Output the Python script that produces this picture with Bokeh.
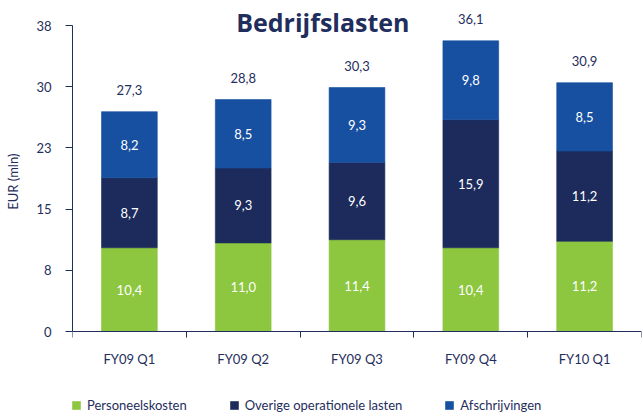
from bokeh.plotting import figure
from bokeh.models import (ColumnDataSource, Range1d, FixedTicker, CustomJSTickFormatter,
                          Legend, LegendItem, Label)
from bokeh.core.properties import value
from bokeh.embed import file_html
from bokeh.resources import INLINE

categories = ["FY09 Q1", "FY09 Q2", "FY09 Q3", "FY09 Q4", "FY10 Q1"]
personeelskosten = [10.4, 11.0, 11.4, 10.4, 11.2]
overige = [8.7, 9.3, 9.6, 15.9, 11.2]
afschrijvingen = [8.2, 8.5, 9.3, 9.8, 8.5]
totals = [27.3, 28.8, 30.3, 36.1, 30.9]
y_ticks = [0, 7.6, 15.2, 22.8, 30.4, 38]
series_names = ["Personeelskosten", "Overige operationele lasten", "Afschrijvingen"]
colors = ["#8DC63F", "#1C2B5B", "#1750A0"]
TEXT = "#1F2E5D"
FONT = "Lato"

def fmt(v):
    return f"{v:.1f}".replace(".", ",")

n = len(categories)
xs = [i + 0.5 for i in range(n)]
data = dict(x=xs, zero=[0] * n, cat=categories,
            p=personeelskosten, o=overige, a=afschrijvingen, total=totals,
            total_lbl=[fmt(v) for v in totals])
data["p_mid"] = [v / 2 for v in personeelskosten]
data["o_mid"] = [p + v / 2 for p, v in zip(personeelskosten, overige)]
data["a_mid"] = [p + o + v / 2 for p, o, v in zip(personeelskosten, overige, afschrijvingen)]
data["p_lbl"] = [fmt(v) for v in personeelskosten]
data["o_lbl"] = [fmt(v) for v in overige]
data["a_lbl"] = [fmt(v) for v in afschrijvingen]
src = ColumnDataSource(data)

Y_MAX = 38
W, H = 643, 419
LEFT, RIGHT = 72, 2
TOP_PX, ZERO_PX = 25, 331           # pixel rows of 38 and 0
ppu = (ZERO_PX - TOP_PX) / Y_MAX    # pixels per unit
y_start = -(H - ZERO_PX) / ppu
y_end = Y_MAX + TOP_PX / ppu

p = figure(width=W, height=H, output_backend="svg", toolbar_location=None,
           x_range=Range1d(0, n), y_range=Range1d(y_start, y_end),
           min_border_left=LEFT, min_border_right=RIGHT, min_border_top=0, min_border_bottom=0)
p.outline_line_color = None
p.xgrid.visible = False
p.ygrid.visible = False
p.background_fill_color = "white"

renderers = p.vbar_stack(["p", "o", "a"], x="x", width=0.49, fill_color=colors,
                         line_color=colors, line_width=0.6, source=src)

for col in ["p", "o", "a"]:
    p.text(x="x", y=col + "_mid", text=col + "_lbl", source=src, text_color="white",
           text_font=value(FONT), text_font_size="13px", text_align="center",
           text_baseline="middle")
p.text(x="x", y="total", text="total_lbl", source=src, text_color=TEXT,
       text_font=value(FONT), text_font_size="13px", text_align="center",
       text_baseline="middle", y_offset=-22)
# category labels under the x axis
p.text(x="x", y="zero", text="cat", source=src, text_color=TEXT,
       text_font=value(FONT), text_font_size="13px", text_align="center",
       text_baseline="middle", y_offset=27)

# x axis drawn at y = 0 inside the frame
xa = p.xaxis[0]
xa.fixed_location = 0
xa.bounds = (0, n)
xa.ticker = FixedTicker(ticks=xs, minor_ticks=list(range(n + 1)))
xa.formatter = CustomJSTickFormatter(code="return '';")
xa.major_label_text_font_size = "0px"
xa.major_label_standoff = 0
xa.major_tick_line_color = None
xa.major_tick_out = 0
xa.major_tick_in = 0
xa.minor_tick_line_color = TEXT
xa.minor_tick_out = 6
xa.minor_tick_in = 0
xa.axis_line_color = TEXT

ya = p.yaxis[0]
ya.ticker = FixedTicker(ticks=y_ticks, minor_ticks=[])
ya.formatter = CustomJSTickFormatter(code="return Math.round(tick).toString();")
ya.bounds = (0, Y_MAX)
ya.major_tick_line_color = TEXT
ya.major_tick_out = 7
ya.major_tick_in = 0
ya.axis_line_color = TEXT
ya.major_label_standoff = 14
ya.major_label_text_font = FONT
ya.major_label_text_font_size = "13px"
ya.major_label_text_color = TEXT
# leading no-break spaces lift the rotated label to the middle of the axis line
ya.axis_label = "\u00a0" * 17 + "EUR (mln)"
ya.axis_label_text_font = FONT
ya.axis_label_text_font_size = "13px"
ya.axis_label_text_font_style = "normal"
ya.axis_label_text_color = TEXT
ya.axis_label_standoff = 12

title = Label(x=2.2, y=38.4, text="Bedrijfslasten", text_font="Open Sans", text_font_size="25px",
              text_font_style="bold", text_color=TEXT, text_align="center",
              text_baseline="middle")
p.add_layout(title)

legend = Legend(items=[LegendItem(label=nm, renderers=[r]) for nm, r in zip(series_names, renderers)],
                orientation="horizontal", location=(-1, 6),
                label_text_font=FONT, label_text_font_size="13px", label_text_color=TEXT,
                glyph_width=10, glyph_height=10, label_standoff=6, spacing=42,
                border_line_color=None, background_fill_alpha=0, padding=0, margin=0)
p.add_layout(legend, "center")

open("out.html", "w").write(file_html(p, INLINE))
